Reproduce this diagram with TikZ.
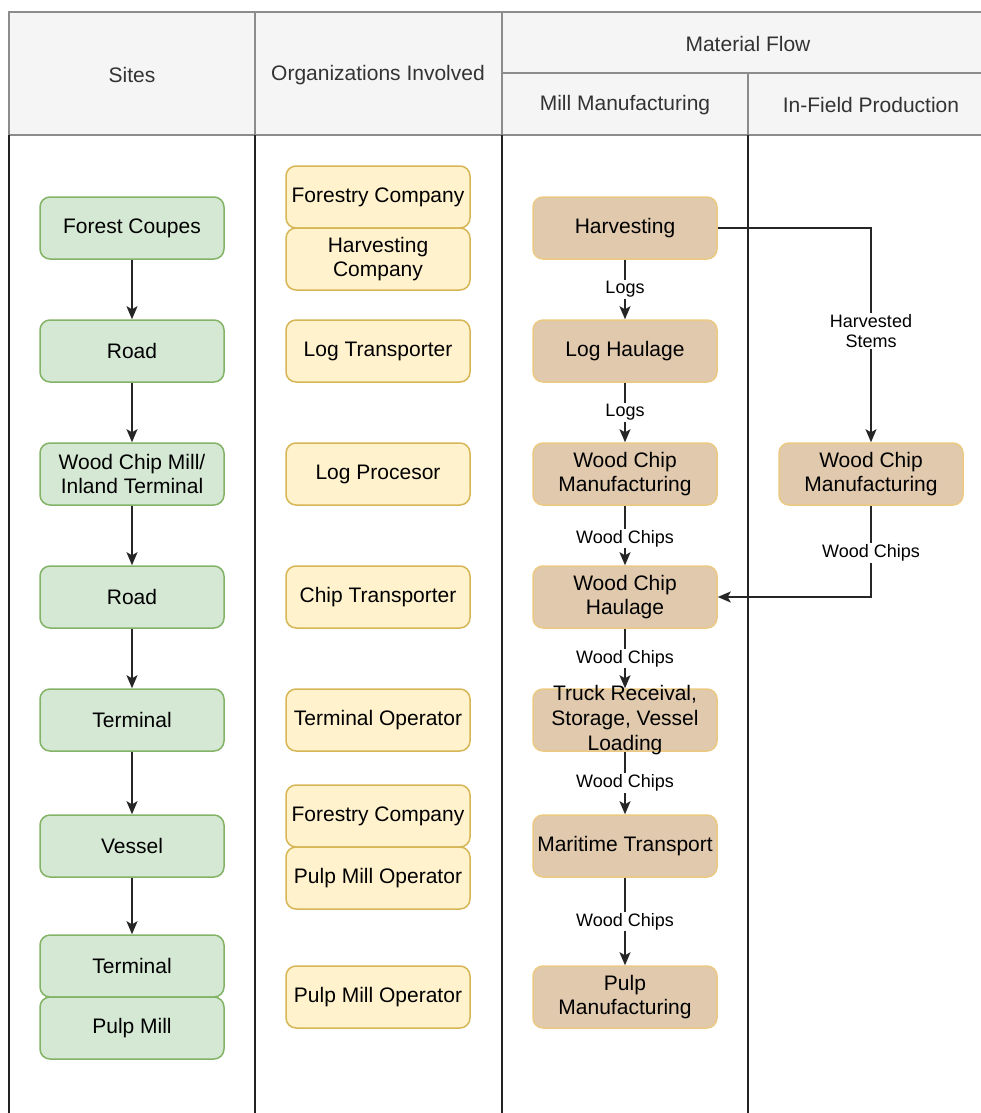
\documentclass[tikz,border=0pt]{standalone}
\usepackage{fontspec}
\setmainfont{Liberation Sans}
\usetikzlibrary{arrows.meta}
\definecolor{hdrfill}{HTML}{F5F5F5}
\definecolor{hdrline}{HTML}{8C8C8C}
\definecolor{laneline}{HTML}{222222}
\definecolor{sitefill}{HTML}{D5E8D4}
\definecolor{siteline}{HTML}{82B366}
\definecolor{orgfill}{HTML}{FFF2CC}
\definecolor{orgline}{HTML}{D6B656}
\definecolor{flowfill}{HTML}{E0C9AD}
\definecolor{flowline}{HTML}{EBC983}
\begin{document}
\begin{tikzpicture}[x=1pt,y=-1pt,
  hdrcell/.style={draw=hdrline, fill=hdrfill, line width=1.5pt},
  hdrtext/.style={font=\fontsize{21}{24}\selectfont, text=black!80},
  box/.style={rounded corners=10pt, minimum width=184pt, minimum height=62pt,
    align=center, font=\fontsize{21}{24.5}\selectfont, line width=1.5pt, inner sep=2pt},
  site/.style={box, fill=sitefill, draw=siteline},
  org/.style={box, fill=orgfill, draw=orgline},
  flow/.style={box, fill=flowfill, draw=flowline},
  flowarr/.style={draw=black!85, line width=1.5pt,
    -{Stealth[length=13pt,width=11pt,inset=3pt]}},
  lbl/.style={fill=white, inner sep=1.5pt, align=center,
    font=\fontsize{18}{20}\selectfont}]
\useasboundingbox (0,0) rectangle (981,1113);
\clip (0,0) rectangle (981,1113);

% header cells
\draw[hdrcell] (9,12) rectangle (255,135);
\draw[hdrcell] (255,12) rectangle (502,135);
\draw[hdrcell] (502,12) rectangle (994,73);
\draw[hdrcell] (502,73) rectangle (748,135);
\draw[hdrcell] (748,73) rectangle (994,135);
\node[hdrtext] (hsites) at (132,75) {Sites};
\node[hdrtext] (horgs) at (378,75) {Organizations Involved};
\node[hdrtext] (hflow) at (748,44) {Material Flow};
\node[hdrtext] (hmill) at (625,105) {Mill Manufacturing};
\node[hdrtext] (hfield) at (871,105) {In-Field Production};

% lane borders
\foreach \lx in {9,255,502,748}
  \draw[laneline, line width=1.5pt] (\lx,135) -- (\lx,1120);

% sites
\node[site] (s1) at (132,228) {Forest Coupes};
\node[site] (s2) at (132,351) {Road};
\node[site] (s3) at (132,474) {Wood Chip Mill/\\Inland Terminal};
\node[site] (s4) at (132,597) {Road};
\node[site] (s5) at (132,720) {Terminal};
\node[site] (s6) at (132,846) {Vessel};
\node[site] (s7) at (132,966) {Terminal};
\node[site] (s8) at (132,1028) {Pulp Mill};
\foreach \a/\b in {s1/s2,s2/s3,s3/s4,s4/s5,s5/s6,s6/s7}
  \draw[flowarr] (\a) -- (\b);

% organizations
\node[org] (o1) at (378,197) {Forestry Company};
\node[org] (o2) at (378,259) {Harvesting\\Company};
\node[org] (o3) at (378,351) {Log Transporter};
\node[org] (o4) at (378,474) {Log Procesor};
\node[org] (o5) at (378,597) {Chip Transporter};
\node[org] (o6) at (378,720) {Terminal Operator};
\node[org] (o7) at (378,816) {Forestry Company};
\node[org] (o8) at (378,878) {Pulp Mill Operator};
\node[org] (o9) at (378,997) {Pulp Mill Operator};

% mill manufacturing flow
\node[flow] (f1) at (625,228) {Harvesting};
\node[flow] (f2) at (625,351) {Log Haulage};
\node[flow] (f3) at (625,474) {Wood Chip\\Manufacturing};
\node[flow] (f4) at (625,597) {Wood Chip\\Haulage};
\node[flow] (f5) at (625,720) {};
\node[align=center, font=\fontsize{21}{25}\selectfont] (f5t) at (f5.center) {Truck Receival,\\Storage, Vessel\\Loading};
\node[flow] (f6) at (625,846) {Maritime Transport};
\node[flow] (f7) at (625,997) {Pulp\\Manufacturing};

% in-field production
\node[flow] (i1) at (871,474) {Wood Chip\\Manufacturing};

% material flow connectors
\draw[flowarr] (f1) -- node[lbl] {Logs} (f2);
\draw[flowarr] (f2) -- node[lbl] {Logs} (f3);
\draw[flowarr] (f3) -- node[lbl, pos=0.55] {Wood Chips} (f4);
\draw[flowarr] (f4) -- node[lbl] {Wood Chips} (f5);
\draw[flowarr] (f5) -- node[lbl] {Wood Chips} (f6);
\draw[flowarr] (f6) -- node[lbl] {Wood Chips} (f7);
\draw[flowarr] (f1.east) -| node[lbl, pos=0.74] {Harvested\\Stems} (i1.north);
\draw[flowarr] (i1.south) |- node[lbl, pos=0.26] {Wood Chips} (f4.east);
\end{tikzpicture}
\end{document}
